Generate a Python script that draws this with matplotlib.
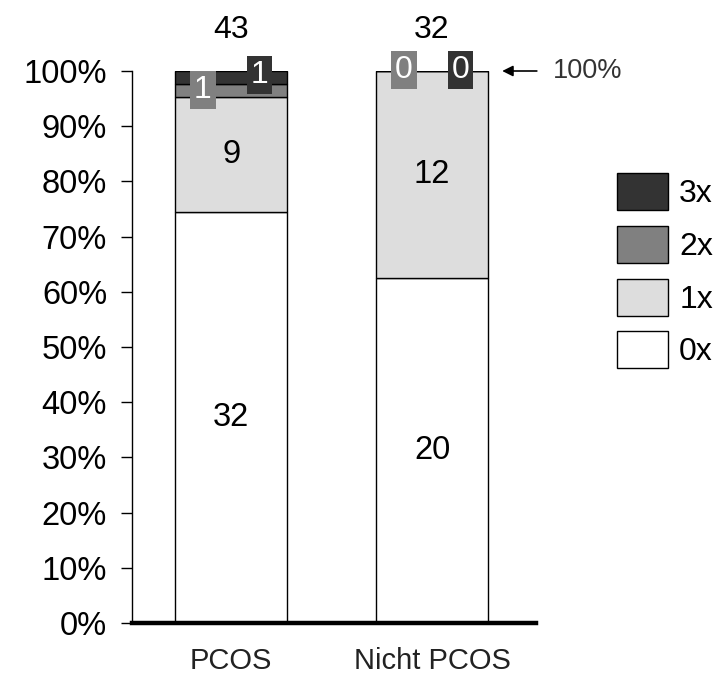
import matplotlib
matplotlib.use("Agg")
import matplotlib.pyplot as plt
from matplotlib.patches import Patch
import numpy as np

plt.rcParams['font.family'] = ['Liberation Sans', 'DejaVu Sans']

groups = ["PCOS", "Nicht PCOS"]
levels = ["0x", "1x", "2x", "3x"]
counts_0x = [32, 20]
counts_1x = [9, 12]
counts_2x = [1, 0]
counts_3x = [1, 0]
colors = ["#ffffff", "#dddddd", "#808080", "#333333"]

series = np.array([counts_0x, counts_1x, counts_2x, counts_3x], dtype=float)
totals = series.sum(axis=0)
shares = series / totals * 100

fig = plt.figure(figsize=(7.2, 6.75), dpi=100)
ax = fig.add_axes([132 / 720, 1 - 623 / 675, 404 / 720, 552 / 675])

x = np.arange(len(groups))
width = 0.557
bottom = np.zeros(len(groups))
for i, lvl in enumerate(levels):
    ax.bar(x, shares[i], width, bottom=bottom, color=colors[i],
           edgecolor="black", linewidth=1.0, label=lvl, zorder=2)
    bottom += shares[i]

cum = np.cumsum(shares, axis=0)
lower = cum - shares

# counts inside the two large segments
for i in (0, 1):
    for j in range(len(groups)):
        ax.text(x[j], lower[i, j] + shares[i, j] / 2, f"{int(series[i, j])}",
                ha="center", va="center", fontsize=23.5, color="black", zorder=4)

# counts of the thin top segments in coloured boxes
box_offsets = {2: -0.14, 3: 0.14}
box_y = {(2, 0): 96.6, (3, 0): 99.3, (2, 1): 100.2, (3, 1): 100.2}
for i in (2, 3):
    for j in range(len(groups)):
        ax.text(x[j] + box_offsets[i], box_y[(i, j)], f"{int(series[i, j])}",
                ha="center", va="center", fontsize=23, color="white", zorder=5,
                bbox=dict(boxstyle="square,pad=0.12", facecolor=colors[i],
                          edgecolor="none"),
                clip_on=False)

# group totals above the bars
for j in range(len(groups)):
    ax.text(x[j], 107.4, f"{int(totals[j])}", ha="center", va="center",
            fontsize=23, color="black", clip_on=False)

ax.set_xlim(-0.493, 1.517)
ax.set_ylim(0, 100)
ax.set_yticks(np.arange(0, 101, 10))
ax.set_yticklabels([f"{v}%" for v in range(0, 101, 10)], fontsize=23.5)
ax.set_xticks(x)
ax.set_xticklabels(groups, fontsize=21, color="#222222")
ax.tick_params(axis="y", direction="out", length=8, width=1, pad=10)
ax.tick_params(axis="x", length=0, pad=17)

for side in ("top", "right"):
    ax.spines[side].set_visible(False)
ax.spines["bottom"].set_linewidth(3.2)
ax.spines["left"].set_linewidth(1.0)

# arrow marking the 100% line
ax.annotate("", xy=(1.335, 100), xytext=(1.535, 100),
            arrowprops=dict(arrowstyle="-|>", color="black", lw=1.2,
                            mutation_scale=16),
            annotation_clip=False)
ax.text(1.60, 100, "100%", ha="left", va="center", fontsize=19.5,
        color="#333333", clip_on=False)

handles = [Patch(facecolor=colors[i], edgecolor="black", linewidth=1.0)
           for i in range(len(levels))][::-1]
fig.legend(handles, levels[::-1], loc="upper left",
           bbox_to_anchor=(617 / 720, 1 - 173 / 675), frameon=False,
           prop={"size": 23}, handlelength=1.6, handleheight=1.41,
           labelspacing=0.49, handletextpad=0.345, borderpad=0, borderaxespad=0)

fig.savefig("out.png", dpi=100)
